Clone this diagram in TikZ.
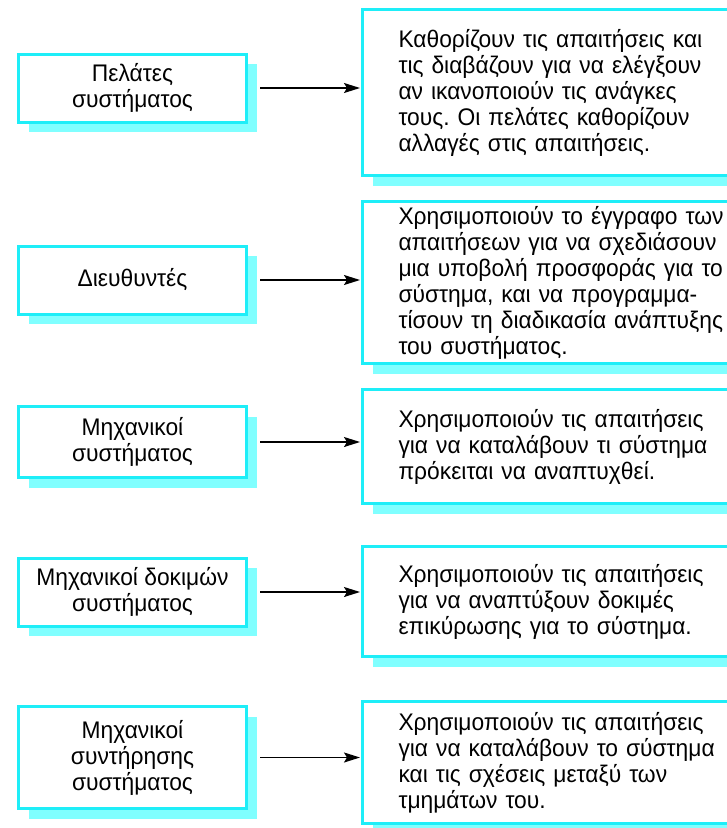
\documentclass[tikz,border=0pt]{standalone}
\usepackage{fontspec}
\setmainfont{Liberation Sans}[FakeStretch=0.95]
\frenchspacing
\usetikzlibrary{arrows.meta,shadows}
\definecolor{boxcyan}{RGB}{30,238,248}
\definecolor{shadecyan}{RGB}{128,255,255}

\begin{document}
\begin{tikzpicture}[x=1pt,y=-1pt,>={Stealth[length=16pt,width=10pt,inset=3pt]},
    font=\fontsize{24}{26}\selectfont,
    role/.style={draw=boxcyan,line width=3pt,fill=white,minimum width=228pt,minimum height=68pt,
        align=center,drop shadow={shadow xshift=10pt,shadow yshift=-10pt,fill=shadecyan,opacity=1}},
    task/.style={role,anchor=west,align=left,text width=380pt,inner xsep=36pt},
    link/.style={->,line width=1.5pt,shorten <=12pt,shorten >=1pt}]
    \useasboundingbox (0,0) rectangle (727,828);
    \clip (0,0) rectangle (727,828);
                \node[role] (c1) at (132.5,88) {Πελάτες\\συστήματος};
                \node[task,minimum height=166pt] (d1) at (361,92.5) {Καθορίζουν τις απαιτήσεις και\\τις διαβάζουν για να ελέγξουν\\αν ικανοποιούν τις ανάγκες\\τους. Οι πελάτες καθορίζουν\\αλλαγές στις απαιτήσεις.};
                \node[role] (c2) at (132.5,280) {Διευθυντές};
                \node[task,minimum height=162pt] (d2) at (361,282.5) {Χρησιμοποιούν το έγγραφο των\\απαιτήσεων για να σχεδιάσουν\\μια υποβολή προσφοράς για το\\σύστημα, και να προγραμμα-\\τίσουν τη διαδικασία ανάπτυξης\\του συστήματος.};
                \node[role,minimum height=71pt] (c3) at (132.5,442) {Μηχανικοί\\συστήματος};
                \node[task,minimum height=114pt] (d3) at (361,446.5) {Χρησιμοποιούν τις απαιτήσεις\\για να καταλάβουν τι σύστημα\\πρόκειται να αναπτυχθεί.};
                \node[role] (c4) at (132.5,592) {Μηχανικοί δοκιμών\\συστήματος};
                \node[task,minimum height=110pt] (d4) at (361,601.5) {Χρησιμοποιούν τις απαιτήσεις\\για να αναπτύξουν δοκιμές\\επικύρωσης για το σύστημα.};
                \node[role,minimum height=102pt] (c5) at (132.5,757.5) {Μηχανικοί\\συντήρησης\\συστήματος};
                \node[task,minimum height=122pt] (d5) at (361,762.5) {Χρησιμοποιούν τις απαιτήσεις\\για να καταλάβουν το σύστημα\\και τις σχέσεις μεταξύ των\\τμημάτων του.};
                \path[link]
                (c1) edge (c1 -| d1.west)
                (c2) edge (c2 -| d2.west)
                (c3) edge (c3 -| d3.west)
                (c4) edge (c4 -| d4.west)
                (c5) edge (c5 -| d5.west)
                ;
            \end{tikzpicture}
\end{document}
